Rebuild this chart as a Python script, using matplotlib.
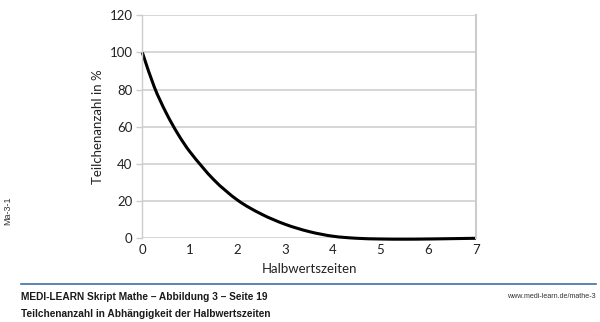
import matplotlib
matplotlib.use("Agg")
import matplotlib.pyplot as plt
from matplotlib.path import Path
from matplotlib.patches import PathPatch
from matplotlib.lines import Line2D

# Values
half_lives = [0, 0.25, 0.5, 0.75, 1, 1.5, 2, 2.5, 3, 3.5, 4, 4.5, 5, 5.5, 6,
              6.5, 7]
particles_pct = [100, 81.5, 67.5, 56, 46.5, 31.5, 20.5, 13, 7.5, 3.6, 1.1, 0.0,
                 -0.4, -0.5, -0.4, -0.2, 0]
y_ticks = [0, 20, 40, 60, 80, 100, 120]
x_ticks = [0, 1, 2, 3, 4, 5, 6, 7]

header = "MEDI-LEARN Skript Mathe \u2013 Abbildung 3 \u2013 Seite 19"
caption = "Teilchenanzahl in Abh\u00e4ngigkeit der Halbwertszeiten"
url = "www.medi-learn.de/mathe-3"
side_code = "Ma-3-1"


def smooth_path(xs, ys):
    # Catmull-Rom bezier (non-uniform spacing), like a "smoothed line"
    pts = list(zip(xs, ys))
    n = len(pts)

    def tangent(i):
        if i == 0:
            (xa, ya), (xb, yb) = pts[0], pts[1]
        elif i == n - 1:
            (xa, ya), (xb, yb) = pts[-2], pts[-1]
        else:
            (xa, ya), (xb, yb) = pts[i - 1], pts[i + 1]
        return (yb - ya) / (xb - xa)

    verts = [pts[0]]
    codes = [Path.MOVETO]
    for i in range(n - 1):
        (x1, y1), (x2, y2) = pts[i], pts[i + 1]
        h = (x2 - x1) / 3
        verts += [(x1 + h, y1 + tangent(i) * h),
                  (x2 - h, y2 - tangent(i + 1) * h),
                  (x2, y2)]
        codes += [Path.CURVE4] * 3
    return Path(verts, codes)


plt.rcParams["font.family"] = ["Lato", "DejaVu Sans"]

fig = plt.figure(figsize=(6, 3.22), dpi=100)
ax = fig.add_axes([0.2372, 0.2600, 0.5560, 0.6925])

grid_c = "#cccccc"
text_c = "#222222"
ax.set_xlim(0, 7)
ax.set_ylim(0, 120)
ax.set_yticks(y_ticks)
ax.set_xticks(x_ticks)
ax.yaxis.grid(True, color=grid_c, lw=1.1)
ax.set_axisbelow(True)
for s in ["top", "bottom"]:
    ax.spines[s].set_visible(False)
ax.spines["left"].set_color(grid_c)
ax.spines["left"].set_linewidth(1.0)
ax.spines["right"].set_color(grid_c)
ax.spines["right"].set_linewidth(1.5)
ax.tick_params(axis="y", length=4, width=1.0, color=grid_c, labelsize=9.5,
               pad=3, labelcolor=text_c)
ax.tick_params(axis="x", length=0, labelsize=9.5, pad=4, labelcolor=text_c)

patch = PathPatch(smooth_path(half_lives, particles_pct), fill=False,
                  lw=2.2, edgecolor="black", capstyle="butt", clip_on=False)
ax.add_patch(patch)

ax.set_xlabel("Halbwertszeiten", fontsize=9.5, color=text_c, labelpad=5)
ax.set_ylabel("Teilchenanzahl in %", fontsize=9.5, color=text_c, labelpad=4)

foot = ["Liberation Sans", "DejaVu Sans"]
fig.add_artist(Line2D([21 / 600, 596 / 600], [1 - 284 / 322] * 2,
                      color="#3f6fa8", lw=1.2))
fig.text(21 / 600, 1 - 296.5 / 322, header, fontsize=7.3, fontweight="bold",
         family=foot, va="center", ha="left", color="#1a1a1a")
fig.text(21 / 600, 1 - 314 / 322, caption, fontsize=7.3, fontweight="bold",
         family=foot, va="center", ha="left", color="#1a1a1a")
fig.text(596 / 600, 1 - 296.5 / 322, url, fontsize=5.1, family=foot,
         va="center", ha="right", color="#333333")
fig.text(8 / 600, 1 - 211 / 322, side_code, fontsize=6.5, rotation=90,
         family=foot, va="center", ha="center", color="#333333")

fig.savefig("out.png", dpi=100)
